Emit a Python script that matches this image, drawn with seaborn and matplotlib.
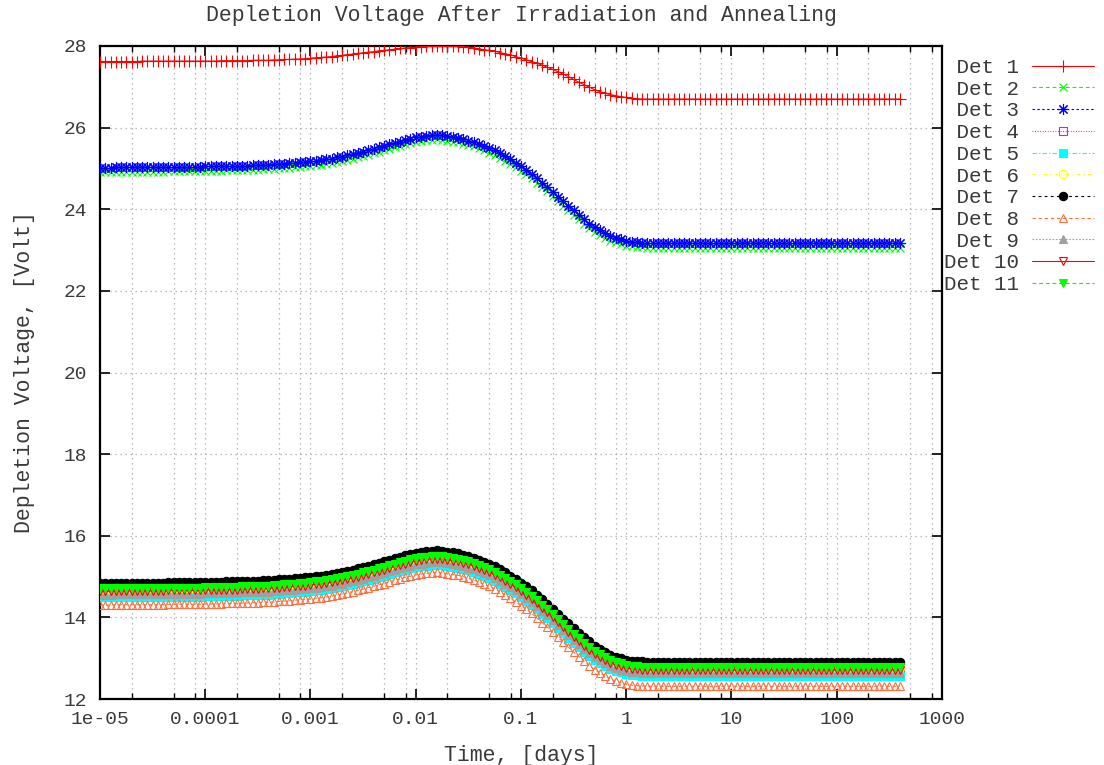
import matplotlib
matplotlib.use("Agg")
import matplotlib.pyplot as plt
import seaborn as sns
from matplotlib.ticker import FixedLocator, FixedFormatter, NullFormatter
from matplotlib.font_manager import FontProperties

# ---------------------------------------------------------------- data
# annealing time in days, 20 samples per decade
TIME_DAYS = [
    1.000e-5, 1.122e-5, 1.259e-5, 1.413e-5, 1.585e-5, 1.778e-5, 1.995e-5, 2.239e-5, 2.512e-5, 2.818e-5,
    3.162e-5, 3.548e-5, 3.981e-5, 4.467e-5, 5.012e-5, 5.623e-5, 6.310e-5, 7.079e-5, 7.943e-5, 8.913e-5,
    1.000e-4, 1.122e-4, 1.259e-4, 1.413e-4, 1.585e-4, 1.778e-4, 1.995e-4, 2.239e-4, 2.512e-4, 2.818e-4,
    3.162e-4, 3.548e-4, 3.981e-4, 4.467e-4, 5.012e-4, 5.623e-4, 6.310e-4, 7.079e-4, 7.943e-4, 8.913e-4,
    1.000e-3, 1.122e-3, 1.259e-3, 1.413e-3, 1.585e-3, 1.778e-3, 1.995e-3, 2.239e-3, 2.512e-3, 2.818e-3,
    3.162e-3, 3.548e-3, 3.981e-3, 4.467e-3, 5.012e-3, 5.623e-3, 6.310e-3, 7.079e-3, 7.943e-3, 8.913e-3,
    1.000e-2, 1.122e-2, 1.259e-2, 1.413e-2, 1.585e-2, 1.778e-2, 1.995e-2, 2.239e-2, 2.512e-2, 2.818e-2,
    3.162e-2, 3.548e-2, 3.981e-2, 4.467e-2, 5.012e-2, 5.623e-2, 6.310e-2, 7.079e-2, 7.943e-2, 8.913e-2,
    0.1000, 0.1122, 0.1259, 0.1413, 0.1585, 0.1778, 0.1995, 0.2239, 0.2512, 0.2818,
    0.3162, 0.3548, 0.3981, 0.4467, 0.5012, 0.5623, 0.6310, 0.7079, 0.7943, 0.8913,
    1.000, 1.122, 1.259, 1.413, 1.585, 1.778, 1.995, 2.239, 2.512, 2.818,
    3.162, 3.548, 3.981, 4.467, 5.012, 5.623, 6.310, 7.079, 7.943, 8.913,
    10.00, 11.22, 12.59, 14.13, 15.85, 17.78, 19.95, 22.39, 25.12, 28.18,
    31.62, 35.48, 39.81, 44.67, 50.12, 56.23, 63.10, 70.79, 79.43, 89.13,
    100.0, 112.2, 125.9, 141.3, 158.5, 177.8, 199.5, 223.9, 251.2, 281.8,
    316.2, 354.8, 398.1,
]

# depletion voltage [V] per detector, one row per decade of time
DET_1 = [
    27.62, 27.62, 27.62, 27.62, 27.62, 27.62, 27.62, 27.62, 27.63, 27.63, 27.63, 27.63, 27.63, 27.63, 27.63, 27.63, 27.63, 27.63, 27.63, 27.63,
    27.63, 27.63, 27.63, 27.64, 27.64, 27.64, 27.64, 27.64, 27.64, 27.65, 27.65, 27.65, 27.65, 27.66, 27.66, 27.67, 27.67, 27.68, 27.68, 27.69,
    27.70, 27.71, 27.72, 27.73, 27.74, 27.76, 27.77, 27.79, 27.80, 27.82, 27.83, 27.85, 27.86, 27.88, 27.89, 27.91, 27.92, 27.94, 27.95, 27.96,
    27.97, 27.98, 27.99, 28.00, 28.00, 28.00, 28.00, 28.00, 27.99, 27.98, 27.97, 27.95, 27.93, 27.91, 27.89, 27.87, 27.84, 27.81, 27.78, 27.74,
    27.70, 27.66, 27.62, 27.58, 27.53, 27.48, 27.43, 27.37, 27.31, 27.25, 27.18, 27.11, 27.05, 26.99, 26.93, 26.88, 26.84, 26.81, 26.78, 26.76,
    26.74, 26.72, 26.71, 26.70, 26.70, 26.70, 26.70, 26.70, 26.70, 26.70, 26.70, 26.70, 26.70, 26.70, 26.70, 26.70, 26.70, 26.70, 26.70, 26.70,
    26.70, 26.70, 26.70, 26.70, 26.70, 26.70, 26.70, 26.70, 26.70, 26.70, 26.70, 26.70, 26.70, 26.70, 26.70, 26.70, 26.70, 26.70, 26.70, 26.70,
    26.70, 26.70, 26.70, 26.70, 26.70, 26.70, 26.70, 26.70, 26.70, 26.70, 26.70, 26.70, 26.70,
]
DET_2 = [
    24.91, 24.91, 24.91, 24.92, 24.92, 24.92, 24.92, 24.92, 24.92, 24.92, 24.92, 24.92, 24.92, 24.93, 24.93, 24.93, 24.93, 24.93, 24.93, 24.93,
    24.94, 24.94, 24.94, 24.94, 24.95, 24.95, 24.95, 24.96, 24.96, 24.97, 24.97, 24.98, 24.98, 24.99, 25.00, 25.01, 25.02, 25.03, 25.04, 25.05,
    25.06, 25.08, 25.09, 25.11, 25.13, 25.16, 25.18, 25.21, 25.24, 25.27, 25.30, 25.34, 25.37, 25.41, 25.44, 25.48, 25.52, 25.55, 25.59, 25.62,
    25.65, 25.67, 25.69, 25.70, 25.71, 25.70, 25.68, 25.66, 25.64, 25.61, 25.57, 25.54, 25.49, 25.44, 25.39, 25.33, 25.26, 25.19, 25.11, 25.03,
    24.94, 24.86, 24.76, 24.65, 24.54, 24.44, 24.32, 24.20, 24.09, 23.97, 23.86, 23.75, 23.64, 23.54, 23.45, 23.37, 23.30, 23.23, 23.19, 23.15,
    23.11, 23.09, 23.08, 23.07, 23.06, 23.06, 23.06, 23.06, 23.06, 23.06, 23.06, 23.06, 23.06, 23.06, 23.06, 23.06, 23.06, 23.06, 23.06, 23.06,
    23.06, 23.06, 23.06, 23.06, 23.06, 23.06, 23.06, 23.06, 23.06, 23.06, 23.06, 23.06, 23.06, 23.06, 23.06, 23.06, 23.06, 23.06, 23.06, 23.06,
    23.06, 23.06, 23.06, 23.06, 23.06, 23.06, 23.06, 23.06, 23.06, 23.06, 23.06, 23.06, 23.06,
]
DET_3 = [
    25.02, 25.02, 25.02, 25.03, 25.03, 25.03, 25.03, 25.03, 25.03, 25.03, 25.03, 25.03, 25.03, 25.04, 25.04, 25.04, 25.04, 25.04, 25.04, 25.04,
    25.05, 25.05, 25.05, 25.05, 25.06, 25.06, 25.06, 25.07, 25.07, 25.08, 25.08, 25.09, 25.09, 25.10, 25.11, 25.12, 25.13, 25.14, 25.15, 25.16,
    25.17, 25.19, 25.20, 25.22, 25.24, 25.27, 25.29, 25.32, 25.35, 25.38, 25.41, 25.45, 25.48, 25.52, 25.55, 25.59, 25.63, 25.66, 25.70, 25.73,
    25.76, 25.78, 25.80, 25.81, 25.82, 25.81, 25.79, 25.77, 25.75, 25.72, 25.68, 25.65, 25.60, 25.55, 25.50, 25.44, 25.37, 25.30, 25.22, 25.14,
    25.05, 24.97, 24.87, 24.76, 24.65, 24.55, 24.43, 24.31, 24.20, 24.08, 23.97, 23.86, 23.75, 23.65, 23.56, 23.48, 23.41, 23.34, 23.30, 23.26,
    23.22, 23.20, 23.19, 23.18, 23.17, 23.17, 23.17, 23.17, 23.17, 23.17, 23.17, 23.17, 23.17, 23.17, 23.17, 23.17, 23.17, 23.17, 23.17, 23.17,
    23.17, 23.17, 23.17, 23.17, 23.17, 23.17, 23.17, 23.17, 23.17, 23.17, 23.17, 23.17, 23.17, 23.17, 23.17, 23.17, 23.17, 23.17, 23.17, 23.17,
    23.17, 23.17, 23.17, 23.17, 23.17, 23.17, 23.17, 23.17, 23.17, 23.17, 23.17, 23.17, 23.17,
]
DET_4 = [
    14.60, 14.60, 14.60, 14.61, 14.61, 14.61, 14.61, 14.61, 14.61, 14.61, 14.61, 14.61, 14.61, 14.62, 14.62, 14.62, 14.62, 14.62, 14.62, 14.62,
    14.63, 14.63, 14.63, 14.63, 14.64, 14.64, 14.64, 14.65, 14.65, 14.66, 14.66, 14.67, 14.67, 14.68, 14.69, 14.70, 14.71, 14.72, 14.73, 14.74,
    14.75, 14.77, 14.78, 14.80, 14.82, 14.85, 14.87, 14.90, 14.93, 14.96, 14.99, 15.03, 15.06, 15.10, 15.13, 15.17, 15.21, 15.24, 15.28, 15.31,
    15.34, 15.36, 15.38, 15.39, 15.40, 15.39, 15.37, 15.35, 15.33, 15.30, 15.26, 15.22, 15.17, 15.12, 15.07, 15.01, 14.94, 14.86, 14.78, 14.70,
    14.61, 14.52, 14.42, 14.31, 14.20, 14.09, 13.97, 13.85, 13.73, 13.61, 13.49, 13.38, 13.27, 13.17, 13.07, 12.99, 12.92, 12.85, 12.80, 12.76,
    12.72, 12.70, 12.69, 12.68, 12.67, 12.67, 12.67, 12.67, 12.67, 12.67, 12.67, 12.67, 12.67, 12.67, 12.67, 12.67, 12.67, 12.67, 12.67, 12.67,
    12.67, 12.67, 12.67, 12.67, 12.67, 12.67, 12.67, 12.67, 12.67, 12.67, 12.67, 12.67, 12.67, 12.67, 12.67, 12.67, 12.67, 12.67, 12.67, 12.67,
    12.67, 12.67, 12.67, 12.67, 12.67, 12.67, 12.67, 12.67, 12.67, 12.67, 12.67, 12.67, 12.67,
]
DET_5 = [
    14.49, 14.49, 14.49, 14.50, 14.50, 14.50, 14.50, 14.50, 14.50, 14.50, 14.50, 14.50, 14.50, 14.51, 14.51, 14.51, 14.51, 14.51, 14.51, 14.51,
    14.52, 14.52, 14.52, 14.52, 14.53, 14.53, 14.53, 14.54, 14.54, 14.55, 14.55, 14.56, 14.56, 14.57, 14.58, 14.59, 14.60, 14.61, 14.62, 14.63,
    14.64, 14.66, 14.67, 14.69, 14.71, 14.74, 14.76, 14.79, 14.82, 14.85, 14.88, 14.92, 14.95, 14.99, 15.02, 15.06, 15.10, 15.13, 15.17, 15.20,
    15.23, 15.25, 15.27, 15.28, 15.29, 15.28, 15.26, 15.24, 15.22, 15.19, 15.15, 15.11, 15.06, 15.01, 14.96, 14.90, 14.83, 14.75, 14.67, 14.59,
    14.50, 14.41, 14.31, 14.20, 14.09, 13.98, 13.86, 13.74, 13.62, 13.50, 13.38, 13.27, 13.16, 13.06, 12.96, 12.88, 12.81, 12.74, 12.69, 12.65,
    12.61, 12.59, 12.58, 12.57, 12.56, 12.56, 12.56, 12.56, 12.56, 12.56, 12.56, 12.56, 12.56, 12.56, 12.56, 12.56, 12.56, 12.56, 12.56, 12.56,
    12.56, 12.56, 12.56, 12.56, 12.56, 12.56, 12.56, 12.56, 12.56, 12.56, 12.56, 12.56, 12.56, 12.56, 12.56, 12.56, 12.56, 12.56, 12.56, 12.56,
    12.56, 12.56, 12.56, 12.56, 12.56, 12.56, 12.56, 12.56, 12.56, 12.56, 12.56, 12.56, 12.56,
]
DET_6 = [
    14.68, 14.68, 14.68, 14.69, 14.69, 14.69, 14.69, 14.69, 14.69, 14.69, 14.69, 14.69, 14.69, 14.70, 14.70, 14.70, 14.70, 14.70, 14.70, 14.70,
    14.71, 14.71, 14.71, 14.71, 14.72, 14.72, 14.72, 14.73, 14.73, 14.74, 14.74, 14.75, 14.75, 14.76, 14.77, 14.78, 14.79, 14.80, 14.81, 14.82,
    14.83, 14.85, 14.86, 14.88, 14.90, 14.93, 14.95, 14.98, 15.01, 15.04, 15.07, 15.11, 15.14, 15.18, 15.21, 15.25, 15.29, 15.32, 15.36, 15.39,
    15.42, 15.44, 15.46, 15.47, 15.48, 15.47, 15.45, 15.43, 15.41, 15.38, 15.34, 15.30, 15.25, 15.20, 15.15, 15.09, 15.02, 14.94, 14.86, 14.78,
    14.69, 14.60, 14.50, 14.39, 14.28, 14.17, 14.05, 13.93, 13.81, 13.69, 13.57, 13.46, 13.35, 13.25, 13.15, 13.07, 13.00, 12.93, 12.88, 12.84,
    12.80, 12.78, 12.77, 12.76, 12.75, 12.75, 12.75, 12.75, 12.75, 12.75, 12.75, 12.75, 12.75, 12.75, 12.75, 12.75, 12.75, 12.75, 12.75, 12.75,
    12.75, 12.75, 12.75, 12.75, 12.75, 12.75, 12.75, 12.75, 12.75, 12.75, 12.75, 12.75, 12.75, 12.75, 12.75, 12.75, 12.75, 12.75, 12.75, 12.75,
    12.75, 12.75, 12.75, 12.75, 12.75, 12.75, 12.75, 12.75, 12.75, 12.75, 12.75, 12.75, 12.75,
]
DET_7 = [
    14.84, 14.84, 14.84, 14.85, 14.85, 14.85, 14.85, 14.85, 14.85, 14.85, 14.85, 14.85, 14.85, 14.86, 14.86, 14.86, 14.86, 14.86, 14.86, 14.86,
    14.87, 14.87, 14.87, 14.87, 14.88, 14.88, 14.88, 14.89, 14.89, 14.90, 14.90, 14.91, 14.91, 14.92, 14.93, 14.94, 14.95, 14.96, 14.97, 14.98,
    14.99, 15.01, 15.02, 15.04, 15.06, 15.09, 15.11, 15.14, 15.17, 15.20, 15.23, 15.27, 15.30, 15.34, 15.37, 15.41, 15.45, 15.48, 15.52, 15.55,
    15.58, 15.60, 15.62, 15.63, 15.64, 15.63, 15.61, 15.59, 15.57, 15.54, 15.50, 15.46, 15.41, 15.36, 15.31, 15.25, 15.18, 15.10, 15.02, 14.94,
    14.85, 14.76, 14.66, 14.55, 14.44, 14.33, 14.21, 14.09, 13.97, 13.85, 13.73, 13.62, 13.51, 13.41, 13.31, 13.23, 13.16, 13.09, 13.04, 13.00,
    12.96, 12.94, 12.93, 12.92, 12.91, 12.91, 12.91, 12.91, 12.91, 12.91, 12.91, 12.91, 12.91, 12.91, 12.91, 12.91, 12.91, 12.91, 12.91, 12.91,
    12.91, 12.91, 12.91, 12.91, 12.91, 12.91, 12.91, 12.91, 12.91, 12.91, 12.91, 12.91, 12.91, 12.91, 12.91, 12.91, 12.91, 12.91, 12.91, 12.91,
    12.91, 12.91, 12.91, 12.91, 12.91, 12.91, 12.91, 12.91, 12.91, 12.91, 12.91, 12.91, 12.91,
]
DET_8 = [
    14.30, 14.30, 14.30, 14.31, 14.31, 14.31, 14.31, 14.31, 14.31, 14.31, 14.31, 14.31, 14.31, 14.32, 14.32, 14.32, 14.32, 14.32, 14.32, 14.32,
    14.33, 14.33, 14.33, 14.33, 14.34, 14.34, 14.34, 14.35, 14.35, 14.36, 14.36, 14.37, 14.37, 14.38, 14.39, 14.40, 14.41, 14.42, 14.43, 14.44,
    14.45, 14.47, 14.48, 14.50, 14.52, 14.55, 14.57, 14.60, 14.63, 14.66, 14.69, 14.73, 14.76, 14.80, 14.83, 14.87, 14.91, 14.94, 14.98, 15.01,
    15.04, 15.06, 15.08, 15.09, 15.10, 15.09, 15.07, 15.05, 15.03, 15.00, 14.96, 14.92, 14.86, 14.81, 14.76, 14.70, 14.63, 14.55, 14.47, 14.38,
    14.29, 14.20, 14.10, 13.99, 13.87, 13.76, 13.64, 13.52, 13.39, 13.27, 13.15, 13.04, 12.92, 12.82, 12.72, 12.64, 12.57, 12.49, 12.44, 12.40,
    12.36, 12.34, 12.33, 12.32, 12.31, 12.31, 12.31, 12.31, 12.31, 12.31, 12.31, 12.31, 12.31, 12.31, 12.31, 12.31, 12.31, 12.31, 12.31, 12.31,
    12.31, 12.31, 12.31, 12.31, 12.31, 12.31, 12.31, 12.31, 12.31, 12.31, 12.31, 12.31, 12.31, 12.31, 12.31, 12.31, 12.31, 12.31, 12.31, 12.31,
    12.31, 12.31, 12.31, 12.31, 12.31, 12.31, 12.31, 12.31, 12.31, 12.31, 12.31, 12.31, 12.31,
]
DET_9 = [
    14.56, 14.56, 14.56, 14.57, 14.57, 14.57, 14.57, 14.57, 14.57, 14.57, 14.57, 14.57, 14.57, 14.58, 14.58, 14.58, 14.58, 14.58, 14.58, 14.58,
    14.59, 14.59, 14.59, 14.59, 14.60, 14.60, 14.60, 14.61, 14.61, 14.62, 14.62, 14.63, 14.63, 14.64, 14.65, 14.66, 14.67, 14.68, 14.69, 14.70,
    14.71, 14.73, 14.74, 14.76, 14.78, 14.81, 14.83, 14.86, 14.89, 14.92, 14.95, 14.99, 15.02, 15.06, 15.09, 15.13, 15.17, 15.20, 15.24, 15.27,
    15.30, 15.32, 15.34, 15.35, 15.36, 15.35, 15.33, 15.31, 15.29, 15.26, 15.22, 15.18, 15.13, 15.08, 15.03, 14.97, 14.90, 14.82, 14.74, 14.66,
    14.57, 14.48, 14.38, 14.27, 14.16, 14.05, 13.93, 13.81, 13.69, 13.57, 13.45, 13.34, 13.23, 13.13, 13.03, 12.95, 12.88, 12.81, 12.76, 12.72,
    12.68, 12.66, 12.65, 12.64, 12.63, 12.63, 12.63, 12.63, 12.63, 12.63, 12.63, 12.63, 12.63, 12.63, 12.63, 12.63, 12.63, 12.63, 12.63, 12.63,
    12.63, 12.63, 12.63, 12.63, 12.63, 12.63, 12.63, 12.63, 12.63, 12.63, 12.63, 12.63, 12.63, 12.63, 12.63, 12.63, 12.63, 12.63, 12.63, 12.63,
    12.63, 12.63, 12.63, 12.63, 12.63, 12.63, 12.63, 12.63, 12.63, 12.63, 12.63, 12.63, 12.63,
]
DET_10 = [
    14.64, 14.64, 14.64, 14.65, 14.65, 14.65, 14.65, 14.65, 14.65, 14.65, 14.65, 14.65, 14.65, 14.66, 14.66, 14.66, 14.66, 14.66, 14.66, 14.66,
    14.67, 14.67, 14.67, 14.67, 14.68, 14.68, 14.68, 14.69, 14.69, 14.70, 14.70, 14.71, 14.71, 14.72, 14.73, 14.74, 14.75, 14.76, 14.77, 14.78,
    14.79, 14.81, 14.82, 14.84, 14.86, 14.89, 14.91, 14.94, 14.97, 15.00, 15.03, 15.07, 15.10, 15.14, 15.17, 15.21, 15.25, 15.28, 15.32, 15.35,
    15.38, 15.40, 15.42, 15.43, 15.44, 15.43, 15.41, 15.39, 15.37, 15.34, 15.30, 15.26, 15.21, 15.16, 15.11, 15.05, 14.98, 14.90, 14.82, 14.74,
    14.65, 14.56, 14.46, 14.35, 14.24, 14.13, 14.01, 13.89, 13.77, 13.65, 13.53, 13.42, 13.31, 13.21, 13.11, 13.03, 12.96, 12.89, 12.84, 12.80,
    12.76, 12.74, 12.73, 12.72, 12.71, 12.71, 12.71, 12.71, 12.71, 12.71, 12.71, 12.71, 12.71, 12.71, 12.71, 12.71, 12.71, 12.71, 12.71, 12.71,
    12.71, 12.71, 12.71, 12.71, 12.71, 12.71, 12.71, 12.71, 12.71, 12.71, 12.71, 12.71, 12.71, 12.71, 12.71, 12.71, 12.71, 12.71, 12.71, 12.71,
    12.71, 12.71, 12.71, 12.71, 12.71, 12.71, 12.71, 12.71, 12.71, 12.71, 12.71, 12.71, 12.71,
]
DET_11 = [
    14.71, 14.71, 14.71, 14.72, 14.72, 14.72, 14.72, 14.72, 14.72, 14.72, 14.72, 14.72, 14.72, 14.73, 14.73, 14.73, 14.73, 14.73, 14.73, 14.73,
    14.74, 14.74, 14.74, 14.74, 14.75, 14.75, 14.75, 14.76, 14.76, 14.77, 14.77, 14.78, 14.78, 14.79, 14.80, 14.81, 14.82, 14.83, 14.84, 14.85,
    14.86, 14.88, 14.89, 14.91, 14.93, 14.96, 14.98, 15.01, 15.04, 15.07, 15.10, 15.14, 15.17, 15.21, 15.24, 15.28, 15.32, 15.35, 15.39, 15.42,
    15.45, 15.47, 15.49, 15.50, 15.51, 15.50, 15.48, 15.46, 15.44, 15.41, 15.37, 15.33, 15.28, 15.23, 15.18, 15.12, 15.05, 14.97, 14.89, 14.81,
    14.72, 14.63, 14.53, 14.42, 14.31, 14.20, 14.08, 13.96, 13.84, 13.72, 13.60, 13.49, 13.38, 13.28, 13.18, 13.10, 13.03, 12.96, 12.91, 12.87,
    12.83, 12.81, 12.80, 12.79, 12.78, 12.78, 12.78, 12.78, 12.78, 12.78, 12.78, 12.78, 12.78, 12.78, 12.78, 12.78, 12.78, 12.78, 12.78, 12.78,
    12.78, 12.78, 12.78, 12.78, 12.78, 12.78, 12.78, 12.78, 12.78, 12.78, 12.78, 12.78, 12.78, 12.78, 12.78, 12.78, 12.78, 12.78, 12.78, 12.78,
    12.78, 12.78, 12.78, 12.78, 12.78, 12.78, 12.78, 12.78, 12.78, 12.78, 12.78, 12.78, 12.78,
]

SERIES = [DET_1, DET_2, DET_3, DET_4, DET_5, DET_6, DET_7, DET_8, DET_9, DET_10, DET_11]
LABELS = [" Det 1", " Det 2", " Det 3", " Det 4", " Det 5", " Det 6",
          " Det 7", " Det 8", " Det 9", "Det 10", "Det 11"]

X_TICKS = [1e-5, 1e-4, 1e-3, 1e-2, 1e-1, 1e0, 1e1, 1e2, 1e3]
X_TICK_LABELS = ["1e-05", "0.0001", "0.001", "0.01", "0.1", "1", "10", "100", "1000"]
X_MINOR_MANTISSAS = [2, 5, 8]
Y_TICKS = [12, 14, 16, 18, 20, 22, 24, 26, 28]

# ---------------------------------------------------------------- styles
STYLES = [
    dict(color="#ff0000", marker="+", ls="-", ms=8, mfc="#ff0000"),
    dict(color="#00ff00", marker="x", ls=(0, (3.5, 2.5)), ms=6, mfc="#00ff00"),
    dict(color="#0000ff", marker=(8, 2, 0), ls=(0, (2.2, 2.2)), ms=8, mfc="#0000ff"),
    dict(color="#ff00ff", marker="s", ls=(0, (0.8, 1.5)), ms=5.5, mfc="none"),
    dict(color="#00ffff", marker="s", ls=(0, (4, 2, 1, 2)), ms=5.5, mfc="#00ffff"),
    dict(color="#ffff00", marker="o", ls=(0, (3, 3, 1, 3)), ms=6, mfc="none"),
    dict(color="#000000", marker="o", ls=(0, (2.5, 3)), ms=6, mfc="#000000"),
    dict(color="#ff7040", marker="^", ls=(0, (3, 2.5)), ms=6, mfc="none"),
    dict(color="#a0a0a0", marker="^", ls=(0, (1.5, 1.5)), ms=6, mfc="#a0a0a0"),
    dict(color="#ff0000", marker="v", ls="-", ms=6, mfc="none"),
    dict(color="#00ff00", marker="v", ls=(0, (3.5, 2.5)), ms=6, mfc="#00ff00"),
]

TEXT_COLOR = "#3a3a3a"

sns.set_style("ticks")
plt.rcParams["font.family"] = ["Liberation Mono", "DejaVu Sans Mono"]
plt.rcParams["text.color"] = TEXT_COLOR

W, H = 1104, 765
fig = plt.figure(figsize=(W / 100, H / 100), dpi=100)
ax = fig.add_axes([100 / W, 66 / H, 842 / W, 653 / H])

handles = []
for values, label, st in zip(SERIES, LABELS, STYLES):
    sns.lineplot(x=TIME_DAYS, y=values, ax=ax, color=st["color"], linestyle=st["ls"],
                 linewidth=0.8, marker=st["marker"], markersize=st["ms"],
                 markerfacecolor=st["mfc"], markeredgecolor=st["color"],
                 markeredgewidth=0.8, legend=False, zorder=3)
    line = ax.lines[-1]
    line.set_label(label)
    handles.append(line)

ax.set_xscale("log")
ax.set_xlim(X_TICKS[0], X_TICKS[-1])
ax.set_ylim(Y_TICKS[0], Y_TICKS[-1])

ax.xaxis.set_major_locator(FixedLocator(X_TICKS))
ax.xaxis.set_major_formatter(FixedFormatter(X_TICK_LABELS))
minor = [m * t for t in X_TICKS[:-1] for m in X_MINOR_MANTISSAS]
ax.xaxis.set_minor_locator(FixedLocator(minor))
ax.xaxis.set_minor_formatter(NullFormatter())
ax.yaxis.set_major_locator(FixedLocator(Y_TICKS))
ax.yaxis.set_minor_locator(FixedLocator([]))

grid_kw = dict(color="#a8a8a8", linestyle=(0, (1, 3)), linewidth=0.9)
ax.grid(True, which="major", axis="both", **grid_kw)
ax.grid(True, which="minor", axis="x", **grid_kw)
ax.set_axisbelow(True)

ax.tick_params(which="both", direction="in", top=True, right=True,
               colors="#000000", labelcolor=TEXT_COLOR, labelsize=14)
ax.tick_params(which="major", length=7, width=1.2, pad=9)
ax.tick_params(which="minor", length=4, width=1.0)
for sp in ax.spines.values():
    sp.set_linewidth(1.6)
    sp.set_color("#000000")

ax.set_xlabel("Time, [days]", fontsize=15.5, color=TEXT_COLOR)
ax.xaxis.set_label_coords(0.5, -(755 - 699) / 653)
ax.xaxis.label.set_va("center")
ax.set_ylabel("Depletion Voltage, [Volt]", fontsize=15.5, color=TEXT_COLOR)
ax.yaxis.set_label_coords((25 - 100) / 842, 0.5)
ax.yaxis.label.set_va("center")
ax.yaxis.label.set_ha("center")

fig.text(521 / W, 1 - 15 / H, "Depletion Voltage After Irradiation and Annealing",
         ha="center", va="center", fontsize=15.5, color=TEXT_COLOR)

ax.legend(handles=handles, loc="upper left", bbox_to_anchor=(944 / W, 1 - 58 / H),
          bbox_transform=fig.transFigure, frameon=False, markerfirst=False,
          handlelength=3.0, handletextpad=0.6, labelspacing=0.13, borderpad=0,
          borderaxespad=0, numpoints=1,
          prop=FontProperties(family="Liberation Mono", size=15))

fig.savefig("out.png", dpi=100)
